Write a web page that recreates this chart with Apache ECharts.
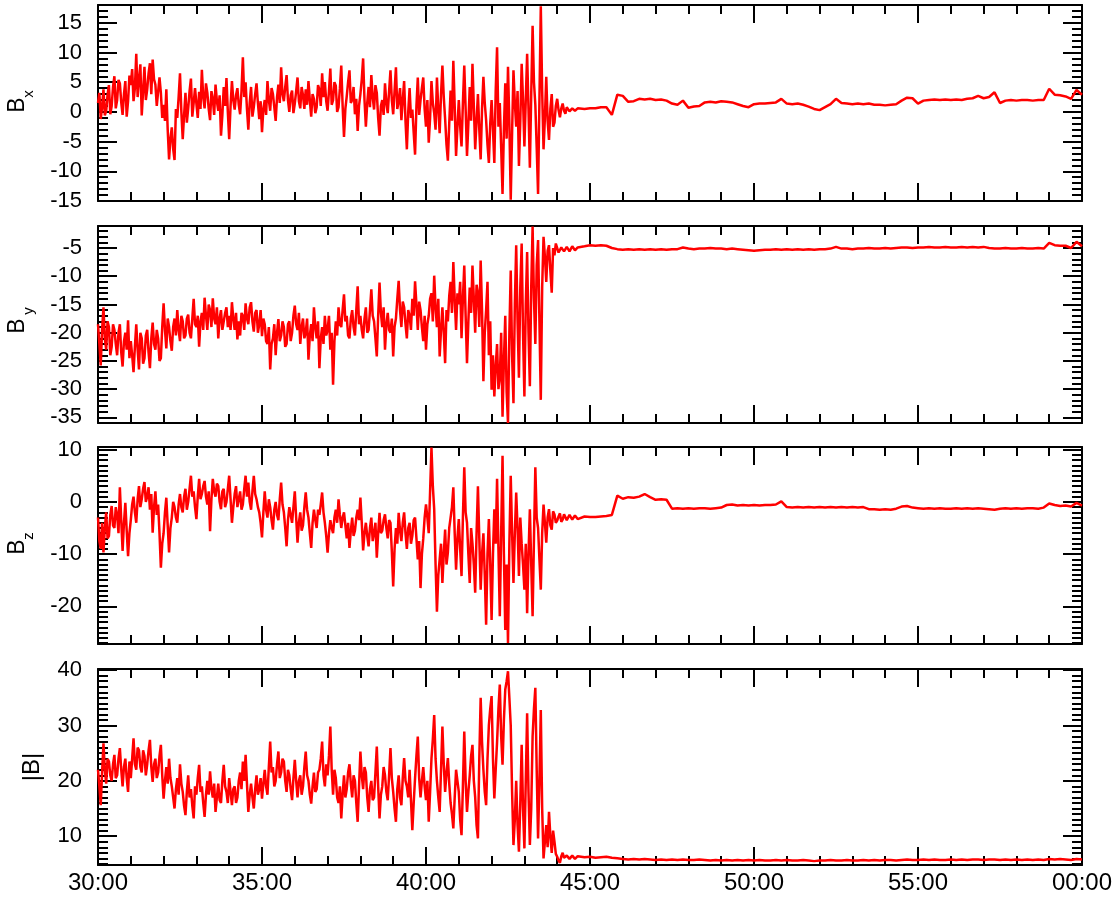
<!DOCTYPE html>
<html>
<head>
<meta charset="utf-8">
<script src="https://cdn.jsdelivr.net/npm/echarts@6/dist/echarts.min.js"></script>
<style>
html,body{margin:0;padding:0;background:#fff;}
#chart{width:1116px;height:900px;}
</style>
</head>
<body>
<div id="chart"></div>
<script>
// ---- sample time grid (minutes): 2.5 s steps 30:00-44:40, then 10 s steps 44:50-60:00
const times = [];
for (let i = 0; i <= 352; i++) times.push(30 + i * 2.5 / 60);
for (let k = 0; k <= 91; k++) times.push(44 + 50 / 60 + k / 6);

const xTickLabels = ['30:00', '35:00', '40:00', '45:00', '50:00', '55:00', '00:00'];

// ---- B_x (nT), one row per minute in the disturbed interval, then the quiet interval
const bx = [
  1.5, 3.2, -1.2, 0.8, 3.8, -0.6, 0.2, 2.9, 4.5, -0.4, 1.0, 4.2, 6.0, 0.6, 2.0, 5.4, 4.8, 1.6, -0.5, 3.0, 5.2, -0.8, 1.8, 6.1,
  4.5, 7.2, 1.8, 4.0, 9.8, 2.5, 5.5, 8.0, -0.6, 3.5, 7.6, 2.0, 3.8, 6.5, 8.2, 3.0, 8.8, 5.5, 4.6, 1.0, 1.2, 5.8, 3.2, -1.0,
  1.2, -1.5, 3.8, -3.0, -8.0, -4.5, -2.6, -6.2, -8.1, 0.5, -1.0, 2.5, 6.5, 0.0, -4.6, -0.5, 3.2, -1.8, 0.6, 3.5, 5.6, -0.8, 1.5, 4.0,
  1.4, -1.0, 3.4, 0.5, 7.1, 2.5, 0.6, 4.8, 3.2, 0.5, -1.4, 3.5, 2.2, -0.5, 4.6, 1.8, 0.2, 2.8, -4.0, -0.5, 4.2, 1.0, 5.7, 0.0,
  -4.6, 1.0, 5.2, 2.0, 0.4, 2.8, 4.0, 1.2, -0.4, 3.5, 9.2, 2.5, 5.0, 0.5, -3.0, 1.5, 4.2, -0.8, 0.8, 3.0, 4.8, 1.5, -1.2, 1.8,
  -3.4, 0.5, 2.0, -0.5, 5.2, 2.0, 0.2, 4.0, 3.0, 0.8, -1.5, 2.5, 4.6, 1.5, 7.5, 3.0, 1.8, 4.2, 6.2, 2.0, 0.0, 2.8, 3.6, -0.2,
  1.4, 3.5, 5.8, 1.8, 0.6, 4.2, 2.8, 0.5, 3.8, 1.2, 5.2, 2.0, -0.8, 3.0, 2.2, -0.2, 0.8, 4.5, 3.8, 1.0, 6.5, 2.5, 5.0, 1.8,
  0.2, 3.5, 7.3, 1.2, 2.0, 5.0, 4.4, 0.0, 0.8, 4.0, 7.8, 1.0, -4.2, 0.5, 2.6, 5.0, 7.0, 1.5, 2.0, 4.2, -0.4, 2.2, -3.2, 1.0,
  3.0, 5.5, 9.0, 2.0, -2.5, 1.5, 4.2, 0.8, 6.2, 2.5, 0.4, 4.5, 3.2, -1.0, -4.0, 1.0, 2.0, -0.5, 4.8, 1.5, -0.2, 3.5, 7.0, 2.0,
  -0.4, 3.5, 7.5, 0.5, 1.8, 4.0, -1.4, 2.0, 5.2, -1.5, -6.3, 0.0, 4.0, -1.0, 0.4, -3.5, -7.2, 1.0, 5.8, -0.5, 2.0, 4.0, 5.8, 0.5,
  -2.5, 2.0, -5.2, -1.0, 5.2, 1.5, -0.2, -3.0, 5.8, 0.5, -3.6, 3.0, 7.8, 2.5, -1.2, -5.5, -8.2, -2.0, 3.6, -1.5, 8.6, 1.0, -7.4, -2.5,
  2.0, -2.5, -5.8, 1.5, 7.8, 0.5, -7.4, -2.0, 4.2, -1.5, 8.1, 1.0, -6.3, -1.5, 3.0, -3.0, -8.0, 0.5, 5.9, 1.5, -1.4, -5.5, -8.6, -2.0,
  2.0, -3.0, -8.6, 3.5, 10.9, -2.5, 1.5, -6.0, -13.8, -3.0, 4.8, -4.5, 7.6, -2.0, -14.8, -3.5, 7.0, 1.5, -2.5, 3.5, -9.1, -1.5, 8.1, 2.0,
  -5.8, 2.0, 9.8, 0.5, -9.4, 3.0, 14.5, 5.0, 1.2, -6.0, -13.8, 2.0, 17.8, 3.5, -6.3, -1.0, 5.9, -1.5, -4.7, 0.5, 3.0, -2.5, -1.8, 1.0,
  2.2, 0.3, -0.9, 0.6, 1.4, 0.2, -0.3, 0.8, 1.0, 0.1, 0.0, 0.6, 0.7, 0.2, 0.2, 0.6, 0.5,
  0.5, 0.6, 0.6, 0.8, 0.8, -0.5, 2.9, 2.7, 1.7, 1.8,
  2.2, 2.1, 2.2, 2.0, 2.1, 1.9, 1.4, 1.2, 1.9, 0.7,
  0.9, 1.0, 1.6, 1.7, 1.6, 1.8, 1.7, 1.6, 1.3, 1.0,
  0.8, 1.3, 1.4, 1.4, 1.5, 1.6, 2.2, 1.4, 1.3, 1.4,
  1.2, 0.9, 0.5, 0.3, 0.8, 1.3, 2.2, 1.5, 1.4, 1.3,
  1.4, 1.3, 1.4, 1.2, 1.2, 1.1, 1.2, 1.3, 1.9, 2.4,
  2.3, 1.4, 1.9, 2.0, 2.1, 2.0, 2.1, 2.0, 2.1, 2.0,
  2.2, 2.3, 2.7, 2.3, 2.5, 3.3, 1.5, 1.9, 2.0, 1.9,
  2.0, 2.0, 1.9, 2.0, 2.0, 3.9, 2.9, 2.8, 2.6, 2.2,
  3.7, 2.9
];

// ---- B_y (nT)
const by = [
  -18.5, -22.0, -25.8, -19.5, -15.5, -21.0, -23.0, -18.0, -19.0, -24.0, -22.5, -18.5, -19.5, -22.0, -24.0, -20.0, -18.5, -23.5, -26.0, -21.5, -20.0, -23.0, -17.8, -24.5,
  -21.5, -24.0, -27.0, -22.5, -18.5, -23.0, -26.5, -20.0, -21.0, -25.5, -24.5, -20.5, -19.5, -23.5, -26.3, -21.0, -18.2, -22.0, -23.0, -19.5, -21.0, -25.0, -24.5, -19.0,
  -14.8, -19.5, -22.8, -17.5, -19.0, -21.5, -23.2, -19.0, -17.5, -20.5, -16.0, -19.5, -21.5, -17.0, -18.0, -21.0, -20.5, -17.5, -16.8, -20.0, -21.0, -17.5, -14.0, -18.5,
  -19.0, -17.0, -22.5, -18.0, -16.5, -19.5, -13.8, -17.0, -19.5, -15.0, -16.0, -19.0, -13.9, -17.5, -18.5, -15.5, -21.0, -17.5, -16.0, -19.5, -19.5, -16.5, -15.5, -19.0,
  -17.0, -19.5, -14.6, -17.5, -19.5, -16.5, -21.2, -18.0, -20.5, -16.5, -17.0, -19.5, -14.8, -17.5, -18.5, -15.5, -14.6, -18.0, -19.8, -16.5, -16.0, -20.0, -18.5, -16.0,
  -20.6, -17.5, -18.5, -21.5, -22.0, -19.0, -26.5, -22.0, -21.0, -18.5, -24.0, -20.0, -17.6, -21.5, -20.5, -18.0, -19.0, -22.5, -22.0, -18.5, -18.0, -21.5, -20.0, -17.0,
  -15.2, -18.5, -19.5, -16.5, -22.0, -19.0, -17.5, -21.0, -20.0, -17.5, -24.8, -20.5, -18.5, -21.5, -15.5, -19.0, -21.0, -18.0, -26.3, -21.0, -19.0, -22.0, -17.0, -20.5,
  -19.5, -17.0, -23.0, -20.0, -29.2, -21.5, -18.0, -20.5, -15.5, -18.5, -19.0, -16.0, -13.2, -18.0, -17.0, -20.5, -21.0, -17.5, -16.0, -19.0, -20.5, -16.0, -11.8, -18.5,
  -17.0, -19.5, -21.0, -17.5, -15.5, -20.0, -19.5, -16.0, -12.3, -17.0, -18.0, -21.0, -24.2, -17.0, -11.1, -16.5, -19.0, -15.5, -23.0, -18.5, -16.5, -19.5, -20.0, -17.5,
  -24.2, -19.0, -17.5, -14.0, -10.8, -16.0, -19.0, -14.5, -15.5, -18.5, -21.0, -16.0, -17.0, -19.5, -14.0, -17.0, -10.9, -15.0, -19.5, -14.5, -16.0, -19.0, -21.5, -17.0,
  -23.0, -18.5, -17.0, -14.0, -13.0, -18.0, -9.9, -15.5, -19.0, -14.0, -24.2, -19.5, -15.5, -20.0, -25.4, -16.0, -18.0, -13.5, -11.0, -16.5, -7.5, -14.0, -19.5, -13.0,
  -15.0, -11.0, -21.0, -14.0, -8.1, -17.0, -25.4, -18.0, -12.0, -16.5, -8.1, -14.0, -20.0, -11.5, -13.0, -19.0, -7.2, -16.0, -28.6, -20.0, -16.0, -11.0, -24.0, -18.0,
  -30.1, -24.0, -31.3, -26.0, -22.0, -30.0, -28.0, -20.0, -34.9, -25.0, -17.0, -30.5, -36.0, -20.0, -9.0, -24.0, -32.5, -15.0, -4.5, -18.0, -28.0, -12.0, -4.2, -20.0,
  -31.3, -15.0, -5.7, -20.0, -29.5, -12.0, -1.2, -14.0, -22.0, -8.0, -3.6, -18.0, -31.9, -12.0, -3.0, -6.5, -11.0, -5.5, -4.5, -9.0, -12.9, -5.0, -6.3, -4.2,
  -5.0, -5.8, -6.0, -4.9, -4.6, -5.6, -5.8, -4.8, -4.9, -5.6, -5.5, -4.7, -4.8, -5.4, -5.3, -4.9, -5.0,
  -4.7, -4.5, -4.6, -4.5, -4.6, -5.0, -5.2, -5.3, -5.2, -5.3,
  -5.2, -5.3, -5.2, -5.3, -5.2, -5.3, -5.2, -5.2, -4.9, -5.1,
  -5.2, -5.1, -5.1, -5.0, -5.1, -5.1, -5.2, -5.1, -5.2, -5.3,
  -5.4, -5.5, -5.4, -5.3, -5.3, -5.2, -5.3, -5.2, -5.3, -5.2,
  -5.3, -5.2, -5.3, -5.2, -5.2, -5.1, -4.8, -5.1, -5.1, -5.2,
  -5.1, -5.1, -5.0, -5.1, -5.1, -5.0, -5.1, -5.0, -4.9, -4.9,
  -5.0, -4.9, -4.9, -4.8, -4.9, -4.9, -4.8, -4.9, -4.9, -4.8,
  -4.9, -4.8, -4.9, -4.8, -5.0, -5.1, -5.1, -5.0, -5.1, -5.1,
  -5.0, -5.1, -5.1, -5.0, -5.1, -4.1, -4.5, -4.6, -4.6, -5.0,
  -3.9, -4.7
];

// ---- B_z (nT)
const bz = [
  -3.0, -7.5, -9.0, -4.0, -9.7, -5.0, -2.0, -7.0, -6.5, -2.5, -0.8, -4.5, -5.0, -1.0, -2.5, -6.0, 2.8, -3.5, -9.4, -4.0, -0.2, -5.5, -10.4, -6.0,
  -3.5, -0.5, 1.0, -2.0, -4.0, 0.5, 3.0, -1.0, 0.5, 2.5, 3.8, 0.0, 1.0, 2.8, -1.5, 1.5, -5.9, -1.0, 2.0, -2.5, -0.5, -6.0, -12.6, -8.0,
  -6.0, -2.0, 0.8, -4.5, -9.7, -5.0, -3.0, 0.0, -1.0, -3.0, -4.0, -0.5, 1.5, -1.0, -2.0, 1.0, 2.5, -1.5, 0.0, 2.5, 5.0, 1.0, 2.0, -1.0,
  -3.3, 1.0, 4.4, 0.5, 1.5, 3.0, 4.0, 1.0, -0.5, 2.0, -5.6, 0.5, 4.4, 2.0, 1.0, 3.5, 3.0, 0.0, -1.4, 2.0, 2.5, -1.0, 0.0, 2.5,
  5.0, 0.5, -4.0, -1.0, 1.5, 3.0, -1.0, 0.5, 2.0, -1.5, -0.5, 2.5, 5.0, 1.0, 3.7, 0.0, -1.5, 2.0, 5.0, 1.5, 0.5, -1.0, -2.0, -4.0,
  -6.8, -2.0, 2.0, -1.5, -3.0, 0.5, -1.0, -3.5, -5.3, -1.5, 0.0, -2.5, -3.5, 0.5, 3.7, -0.5, -2.0, -5.0, -8.5, -3.5, -1.0, -2.5, -4.0, -1.0,
  2.0, -3.0, -7.8, -4.0, -2.0, -5.5, -4.5, -1.0, 1.8, -1.5, -3.0, -6.0, -8.8, -4.0, -1.5, -3.5, -5.0, -1.5, -2.5, -0.5, 1.8, -2.0, -4.0, -6.5,
  -9.7, -6.0, -3.5, -5.0, -6.0, -3.0, -1.5, -4.0, 0.5, -2.5, -5.0, -3.0, -2.0, -4.5, -7.0, -4.0, -8.8, -5.5, -3.0, -6.5, -5.5, -3.0, -1.5, -3.5,
  0.8, -4.0, -9.3, -6.0, -4.0, -6.5, -8.5, -5.0, -3.0, -7.5, -6.0, -4.0, -10.7, -6.0, -2.1, -6.0, -5.5, -3.5, -2.4, -5.0, -7.0, -3.5, -4.0, -9.5,
  -16.2, -9.0, -5.0, -8.0, -2.1, -5.5, -7.5, -4.0, -2.0, -6.0, -9.0, -5.0, -4.0, -8.0, -6.5, -3.5, -3.0, -7.0, -11.0, -7.5, -16.5, -10.0, -7.0, -3.0,
  -0.5, -3.0, -6.0, 2.0, 10.4, 3.0, -1.4, -12.0, -21.0, -14.0, -11.0, -8.0, -15.5, -10.0, -5.3, -12.0, -9.7, -5.0, -3.0, -1.0, 2.8, -6.0, -13.0, -7.0,
  -3.3, -9.0, -14.2, -3.0, 6.6, -2.0, -4.0, -10.0, -15.5, -5.0, -8.0, -12.0, -17.4, -6.0, 3.0, -7.0, -16.8, -10.0, -6.0, -14.0, -23.5, -10.0, -3.3, -12.0,
  -22.6, -10.0, -1.4, -8.0, 4.4, -9.0, -21.9, -6.0, 8.8, -10.0, -24.5, -12.0, -27.0, -8.0, 5.0, -6.0, -15.5, -6.0, 1.8, -5.0, -14.2, -3.0, -8.0, -12.0,
  -16.8, -8.0, -21.3, -10.0, -1.4, -12.0, -21.9, -7.0, 6.6, -3.0, -5.0, -11.0, -16.8, -6.0, -0.5, -4.0, -7.8, -3.0, -1.4, -4.5, -5.3, -1.8, -2.4, -4.0,
  -3.6, -2.8, -2.2, -3.8, -3.4, -2.4, -2.6, -3.5, -3.2, -2.5, -2.8, -3.4, -3.0, -2.6, -2.9, -3.3, -3.1,
  -2.8, -2.9, -2.9, -2.8, -2.7, -2.5, 1.2, 0.6, 0.9, 0.8,
  1.0, 1.5, 0.9, 0.4, 0.5, 0.4, -1.3, -1.2, -1.3, -1.2,
  -1.3, -1.2, -1.2, -1.3, -1.2, -1.1, -0.6, -0.5, -0.7, -0.6,
  -0.7, -0.6, -0.7, -0.6, -0.6, -0.5, 0.1, -1.0, -1.1, -1.0,
  -1.1, -1.0, -1.1, -1.0, -1.1, -1.0, -1.1, -1.0, -1.1, -1.0,
  -1.1, -1.0, -1.4, -1.4, -1.5, -1.4, -1.5, -1.3, -0.9, -0.8,
  -1.1, -1.2, -1.3, -1.2, -1.3, -1.2, -1.3, -1.3, -1.2, -1.3,
  -1.2, -1.3, -1.2, -1.3, -1.4, -1.5, -1.3, -1.2, -1.3, -1.2,
  -1.3, -1.2, -1.2, -1.3, -1.1, -0.3, -0.6, -0.8, -0.7, -0.9,
  -0.2, -0.7
];

// ---- |B| (nT)
const bt = [
  22.0, 19.0, 15.6, 21.5, 26.8, 22.0, 19.5, 24.0, 23.5, 21.0, 20.0, 23.0, 24.7, 20.5, 21.0, 24.0, 25.9, 22.0, 19.0, 22.5, 24.0, 20.5, 18.0, 23.5,
  20.5, 24.0, 27.7, 23.0, 22.0, 26.0, 25.5, 22.5, 21.5, 25.5, 24.5, 21.0, 23.0, 25.5, 27.4, 22.5, 19.8, 23.0, 24.0, 20.5, 21.5, 24.5, 26.5, 21.0,
  16.8, 20.0, 22.5, 19.5, 24.0, 20.5, 19.0, 17.0, 15.0, 18.5, 20.5, 17.5, 23.0, 19.5, 18.0, 15.5, 13.8, 18.0, 21.0, 17.0, 18.5, 15.5, 13.2, 19.0,
  17.5, 20.5, 22.9, 18.0, 19.0, 16.0, 13.5, 17.5, 20.0, 17.5, 21.7, 18.5, 17.0, 19.5, 14.4, 17.0, 19.5, 16.5, 16.0, 20.0, 22.9, 19.0, 18.0, 16.0,
  20.5, 18.0, 15.6, 18.5, 19.0, 16.0, 17.0, 20.0, 21.5, 18.5, 23.5, 20.0, 24.7, 19.5, 14.4, 17.5, 19.5, 17.0, 15.0, 18.5, 21.0, 17.5, 18.5, 20.5,
  16.8, 19.5, 22.0, 19.0, 17.5, 22.5, 27.1, 21.5, 22.5, 19.0, 20.0, 23.0, 25.3, 20.5, 21.5, 24.0, 23.5, 20.0, 18.0, 22.0, 21.0, 18.5, 16.5, 20.5,
  23.8, 20.0, 17.0, 20.0, 21.0, 17.5, 19.0, 22.5, 25.3, 21.0, 20.0, 17.5, 15.9, 19.0, 21.5, 18.0, 18.5, 21.5, 22.0, 24.0, 27.1, 21.0, 19.0, 23.0,
  21.0, 24.5, 29.8, 22.0, 17.5, 22.0, 20.5, 17.0, 16.0, 19.0, 13.2, 17.5, 21.0, 17.0, 18.5, 21.5, 23.0, 19.5, 17.0, 21.0, 20.0, 16.0, 12.6, 19.0,
  25.3, 21.0, 18.5, 22.5, 21.5, 17.0, 14.4, 18.5, 20.0, 16.5, 17.0, 21.5, 26.2, 19.0, 13.2, 17.5, 19.0, 22.5, 21.0, 18.0, 16.5, 21.0, 25.9, 20.5,
  18.0, 15.0, 12.6, 18.5, 21.0, 17.0, 15.6, 20.5, 24.1, 20.0, 19.0, 17.0, 22.0, 16.5, 11.1, 16.0, 20.5, 24.5, 28.0, 20.5, 17.0, 20.0, 22.5, 19.0,
  16.5, 20.0, 12.6, 18.0, 24.0, 27.5, 31.9, 24.0, 20.0, 17.0, 14.4, 22.0, 29.8, 23.0, 18.0, 21.5, 24.1, 19.5, 16.0, 14.0, 11.4, 17.0, 22.0, 20.0,
  18.0, 13.0, 10.2, 19.0, 28.9, 20.0, 14.4, 18.0, 21.0, 24.5, 26.5, 20.0, 17.0, 12.0, 9.6, 24.0, 35.0, 27.0, 22.0, 18.0, 15.6, 24.0, 30.0, 33.0,
  35.3, 24.0, 16.8, 22.0, 27.0, 33.0, 37.4, 28.0, 22.9, 31.0, 36.5, 38.0, 39.8, 35.0, 30.0, 18.0, 8.4, 13.0, 20.0, 12.0, 7.2, 16.0, 26.5, 15.0,
  7.8, 20.0, 32.2, 18.0, 8.4, 15.0, 28.0, 33.0, 36.8, 22.0, 9.6, 20.0, 32.8, 15.0, 6.0, 9.0, 12.0, 8.0, 14.4, 10.0, 7.0, 11.0, 9.0, 6.8,
  6.3, 5.6, 5.2, 6.4, 7.0, 6.1, 5.8, 6.5, 6.6, 5.9, 5.9, 6.5, 6.4, 5.9, 6.0, 6.4, 6.3,
  6.2, 6.3, 6.1, 6.2, 6.3, 6.1, 6.0, 5.9, 5.8, 5.9,
  5.8, 5.9, 5.8, 5.7, 5.8, 5.7, 5.8, 5.7, 5.8, 5.7,
  5.7, 5.8, 5.7, 5.6, 5.7, 5.6, 5.7, 5.6, 5.7, 5.6,
  5.7, 5.6, 5.7, 5.6, 5.6, 5.7, 5.6, 5.7, 5.6, 5.6,
  5.7, 5.6, 5.5, 5.6, 5.6, 5.7, 5.6, 5.6, 5.7, 5.6,
  5.6, 5.7, 5.6, 5.7, 5.6, 5.7, 5.7, 5.6, 5.7, 5.8,
  5.7, 5.7, 5.8, 5.7, 5.8, 5.7, 5.7, 5.8, 5.7, 5.8,
  5.7, 5.8, 5.8, 5.7, 5.8, 5.8, 5.7, 5.8, 5.7, 5.8,
  5.7, 5.8, 5.7, 5.8, 5.7, 5.9, 5.8, 5.9, 5.8, 5.7,
  5.9, 5.8
];

// ---- panel axis ranges and tick labels
const yRanges = [[-15, 18], [-36, -1.1], [-27.2, 10.5], [4.8, 40.2]];
const yMajor = [
  [-15, -10, -5, 0, 5, 10, 15],
  [-35, -30, -25, -20, -15, -10, -5],
  [-20, -10, 0, 10],
  [10, 20, 30, 40]
];
const seriesValues = [bx, by, bz, bt];

const FONT = '"Liberation Sans", Arial, Helvetica, sans-serif';
const gridBoxes = [
  { top: 5, height: 196 },
  { top: 226, height: 197 },
  { top: 447, height: 197 },
  { top: 669, height: 196 }
];

const black = { color: '#000', width: 2 };
const grid = gridBoxes.map(g => ({ left: 98, right: 34, top: g.top, height: g.height, containLabel: false }));

const xAxis = [];
const yAxis = [];
const series = [];
gridBoxes.forEach((g, gi) => {
  const base = {
    type: 'value', gridIndex: gi, min: 30, max: 60, interval: 5,
    axisLine: { show: true, onZero: false, lineStyle: black },
    axisTick: { show: true, inside: true, length: 18, lineStyle: black },
    minorTick: { show: true, splitNumber: 5, length: 9, lineStyle: black },
    splitLine: { show: false }, minorSplitLine: { show: false }
  };
  xAxis.push(Object.assign({}, base, {
    position: 'bottom',
    axisLabel: gi === 3 ? {
      show: true, color: '#000', fontSize: 24, fontFamily: FONT, margin: 6,
      formatter: v => xTickLabels[Math.round((v - 30) / 5)]
    } : { show: false }
  }));
  xAxis.push(Object.assign({}, base, { position: 'top', axisLabel: { show: false } }));

  const [mn, mx] = yRanges[gi];
  const minor = [];
  for (let v = Math.ceil(mn); v <= Math.floor(mx); v++) minor.push(v);
  const yBase = {
    type: 'value', gridIndex: gi, min: mn, max: mx,
    splitLine: { show: false }, minorTick: { show: false }
  };
  yAxis.push(Object.assign({}, yBase, {
    position: 'left',
    axisLine: { show: true, onZero: false, lineStyle: black },
    axisTick: { show: true, inside: true, length: 19, lineStyle: black, customValues: yMajor[gi] },
    axisLabel: { show: true, color: '#000', fontSize: 22, fontFamily: FONT, margin: 16, customValues: yMajor[gi] }
  }));
  yAxis.push(Object.assign({}, yBase, {
    position: 'right',
    axisLine: { show: true, onZero: false, lineStyle: black },
    axisTick: { show: true, inside: true, length: 19, lineStyle: black, customValues: yMajor[gi] },
    axisLabel: { show: false }
  }));
  ['left', 'right'].forEach(pos => {
    yAxis.push(Object.assign({}, yBase, {
      position: pos,
      axisLine: { show: false, onZero: false },
      axisTick: { show: true, inside: true, length: 10, lineStyle: black, customValues: minor },
      axisLabel: { show: false }
    }));
  });

  series.push({
    type: 'line',
    xAxisIndex: gi * 2,
    yAxisIndex: gi * 4,
    data: times.map((t, i) => [t, seriesValues[gi][i]]),
    showSymbol: false,
    symbol: 'none',
    clip: true,
    lineStyle: { color: '#ff0000', width: 2.5 },
    silent: true
  });
});

function txt(x, y, s, size) {
  return {
    type: 'text', x: x, y: y, rotation: Math.PI / 2,
    style: {
      text: s, fontSize: size, fontFamily: FONT, fill: '#000',
      textAlign: 'center', textVerticalAlign: 'middle', align: 'center', verticalAlign: 'middle'
    }
  };
}
const graphic = [
  txt(17.5, 105, 'B', 23), txt(28.5, 94, 'x', 15),
  txt(17.5, 326, 'B', 23), txt(28.5, 311, 'y', 15),
  txt(17.5, 547, 'B', 23), txt(28.5, 536, 'z', 15),
  txt(32, 767, '|B|', 24)
];

const chart = echarts.init(document.getElementById('chart'), null, { renderer: 'canvas' });
chart.setOption({
  animation: false,
  backgroundColor: '#fff',
  grid: grid,
  xAxis: xAxis,
  yAxis: yAxis,
  series: series,
  graphic: graphic
});
</script>
</body>
</html>
